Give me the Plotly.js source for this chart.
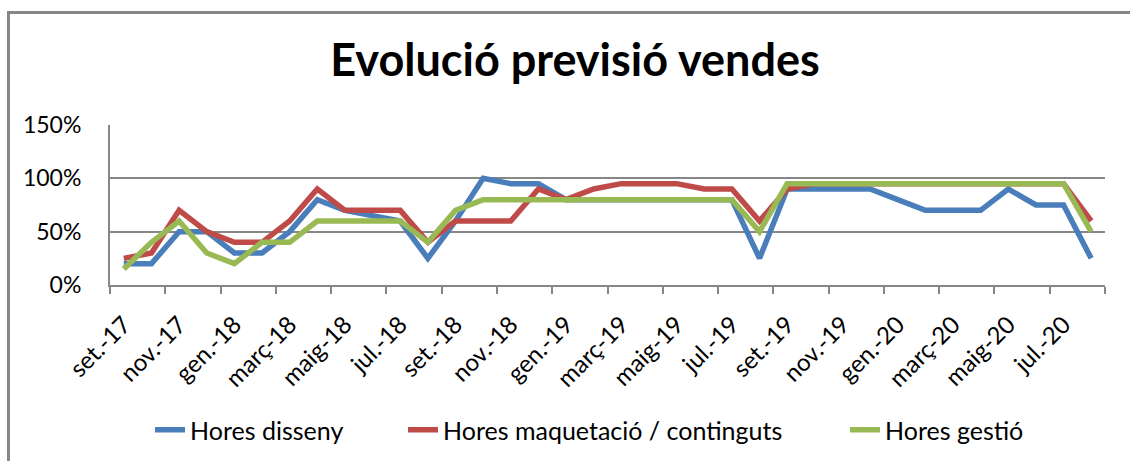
<!DOCTYPE html>
<html>
<head>
<meta charset="utf-8">
<script src="https://cdn.plot.ly/plotly-3.0.1.min.js"></script>
<style>
  html, body { margin: 0; padding: 0; background: #fff; }
  #wrap { position: relative; width: 1130px; height: 461px; }
  #chart { width: 1130px; height: 461px; }
  #frame { position: absolute; left: 7px; top: 11px; right: 0; bottom: 0;
           border-left: 3px solid #878787; border-top: 3px solid #878787;
           pointer-events: none; }
</style>
</head>
<body>
<div id="wrap">
  <div id="chart"></div>
  <div id="frame"></div>
</div>
<script>
const months = ["set.-17","oct.-17","nov.-17","des.-17","gen.-18","febr.-18","març-18","abr.-18","maig-18","juny-18","jul.-18","ag.-18",
                "set.-18","oct.-18","nov.-18","des.-18","gen.-19","febr.-19","març-19","abr.-19","maig-19","juny-19","jul.-19","ag.-19",
                "set.-19","oct.-19","nov.-19","des.-19","gen.-20","febr.-20","març-20","abr.-20","maig-20","juny-20","jul.-20","ag.-20"];

const horesDisseny = [0.20,0.20,0.50,0.50,0.30,0.30,0.50,0.80,0.70,0.65,0.60,0.25,
                      0.60,1.00,0.95,0.95,0.80,0.80,0.80,0.80,0.80,0.80,0.80,0.25,
                      0.90,0.90,0.90,0.90,0.80,0.70,0.70,0.70,0.90,0.75,0.75,0.25];
const horesMaquetacio = [0.25,0.30,0.70,0.50,0.40,0.40,0.60,0.90,0.70,0.70,0.70,0.40,
                         0.60,0.60,0.60,0.90,0.80,0.90,0.95,0.95,0.95,0.90,0.90,0.60,
                         0.90,0.95,0.95,0.95,0.95,0.95,0.95,0.95,0.95,0.95,0.95,0.60];
const horesGestio = [0.15,0.40,0.60,0.30,0.20,0.40,0.40,0.60,0.60,0.60,0.60,0.40,
                     0.70,0.80,0.80,0.80,0.80,0.80,0.80,0.80,0.80,0.80,0.80,0.50,
                     0.95,0.95,0.95,0.95,0.95,0.95,0.95,0.95,0.95,0.95,0.95,0.50];

const seriesNames = ["Hores disseny","Hores maquetació / continguts","Hores gestió"];
const seriesColors = ["#4A7EBB","#BE4B48","#98B954"];
const yTicks = [0, 0.5, 1.0, 1.5];

const idx = months.map((m, i) => i);
const labelVals = idx.filter(i => i % 2 === 0);
const labelText = labelVals.map(i => months[i]);
const boundaryVals = [];
for (let b = -0.5; b <= months.length - 0.5 + 1e-9; b += 2) boundaryVals.push(b);

const font = "Lato, 'Open Sans', 'DejaVu Sans', sans-serif";
const legendIds = ["legend", "legend2", "legend3"];
const legendLeft = [150, 403, 845];

const data = [horesDisseny, horesMaquetacio, horesGestio].map((vals, k) => ({
  type: "scatter", mode: "lines", x: idx, y: vals, name: seriesNames[k],
  legend: legendIds[k],
  line: { color: seriesColors[k], width: 5.5 }, text: months, hoverinfo: "text+y+name"
}));

const legendStyle = (px) => ({
  orientation: "h", xref: "container", yref: "container", x: px / 1130, xanchor: "left",
  y: 31 / 461, yanchor: "middle", font: { family: font, size: 25, color: "#000" },
  itemwidth: 30, bgcolor: "rgba(0,0,0,0)"
});

const layout = {
  width: 1130, height: 461,
  margin: { l: 110, r: 25, t: 125, b: 176 },
  paper_bgcolor: "rgba(0,0,0,0)", plot_bgcolor: "rgba(0,0,0,0)",
  font: { family: font, color: "#000" },
  title: { text: "<b>Evolució previsió vendes</b>", font: { family: font, size: 45, color: "#000" },
           x: 575 / 1130, xref: "container", xanchor: "center", y: 1 - 60 / 461, yref: "container", yanchor: "middle" },
  showlegend: true,
  legend: legendStyle(legendLeft[0]),
  legend2: legendStyle(legendLeft[1]),
  legend3: legendStyle(legendLeft[2]),
  xaxis: {
    type: "linear", range: [-0.5, months.length - 0.5], tickmode: "array",
    tickvals: labelVals, ticktext: labelText, tickangle: -45, ticks: "",
    minor: { tickmode: "array", tickvals: boundaryVals, ticks: "outside", ticklen: 7,
             tickwidth: 2, tickcolor: "#878787", showgrid: false },
    showgrid: false, zeroline: false, showline: true, linecolor: "#878787", linewidth: 2,
    tickfont: { family: font, size: 24, color: "#000" }, ticklabelstandoff: 14
  },
  yaxis: {
    range: [0, 1.5], tickmode: "array", tickvals: yTicks, tickformat: ".0%",
    showgrid: true, gridcolor: "#878787", gridwidth: 2, zeroline: false,
    showline: true, linecolor: "#878787", linewidth: 2, ticks: "",
    tickfont: { family: font, size: 23, color: "#000" }, ticklabelstandoff: 22
  }
};

Plotly.newPlot("chart", data, layout, { displayModeBar: false, staticPlot: true });
</script>
</body>
</html>
